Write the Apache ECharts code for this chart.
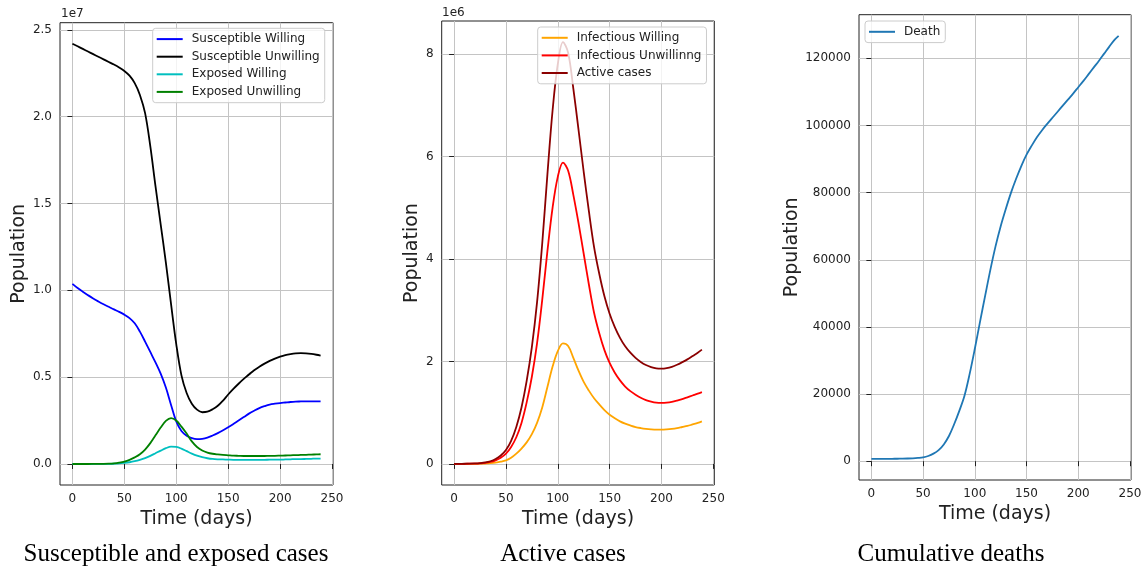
<!DOCTYPE html>
<html><head><meta charset="utf-8">
<script src="https://cdn.jsdelivr.net/npm/echarts@6/dist/echarts.min.js"></script>
<style>html,body{margin:0;padding:0;background:#fff}#c{width:1146px;height:569px}</style>
</head><body><div id="c"></div>
<script>
const days = [0,5,10,15,20,25,30,35,40,45,50,55,60,65,70,75,80,85,90,95,100,105,110,115,120,125,130,135,140,145,150,155,160,165,170,175,180,185,190,195,200,205,210,215,220,225,230,235,239];

// Panel 1 (units of 1e7)
const susceptibleWilling = [1.037,1.013,0.992,0.972,0.953,0.936,0.92,0.905,0.89,0.876,0.86,0.84,0.81,0.762,0.705,0.645,0.585,0.52,0.44,0.34,0.245,0.19,0.163,0.149,0.143,0.145,0.152,0.164,0.178,0.194,0.211,0.23,0.25,0.27,0.29,0.307,0.322,0.333,0.342,0.347,0.351,0.354,0.357,0.359,0.36,0.361,0.361,0.361,0.361];
const susceptibleUnwilling = [2.42,2.405,2.39,2.375,2.36,2.345,2.33,2.315,2.30,2.283,2.263,2.236,2.193,2.125,2.02,1.83,1.60,1.38,1.16,0.92,0.69,0.51,0.409,0.347,0.313,0.298,0.301,0.315,0.335,0.365,0.40,0.432,0.462,0.49,0.515,0.54,0.56,0.578,0.594,0.607,0.618,0.627,0.633,0.637,0.638,0.637,0.634,0.629,0.624];
const exposedWilling = [0,0,0,0,0.0001,0.0002,0.0004,0.0008,0.0015,0.003,0.006,0.01,0.016,0.024,0.034,0.047,0.062,0.077,0.091,0.1,0.098,0.088,0.074,0.06,0.048,0.039,0.033,0.029,0.027,0.026,0.025,0.024,0.024,0.024,0.024,0.024,0.024,0.024,0.025,0.025,0.025,0.026,0.027,0.028,0.028,0.029,0.03,0.031,0.031];
const exposedUnwilling = [0,0,0,0,0.0003,0.0006,0.001,0.002,0.004,0.008,0.014,0.024,0.038,0.056,0.083,0.12,0.165,0.21,0.248,0.264,0.25,0.215,0.175,0.13,0.098,0.078,0.066,0.059,0.055,0.052,0.05,0.048,0.047,0.046,0.046,0.046,0.046,0.046,0.047,0.047,0.048,0.049,0.05,0.051,0.052,0.053,0.054,0.055,0.056];

// Panel 2 (units of 1e6)
const infectiousWilling = [0,0,0.001,0.001,0.002,0.004,0.008,0.014,0.025,0.043,0.07,0.12,0.2,0.3,0.42,0.58,0.8,1.1,1.5,1.9,2.2,2.35,2.3,2.07,1.82,1.6,1.43,1.28,1.16,1.05,0.96,0.89,0.83,0.785,0.75,0.72,0.7,0.685,0.675,0.67,0.67,0.675,0.685,0.7,0.72,0.74,0.77,0.8,0.83];
const infectiousUnwilling = [0,0.001,0.002,0.004,0.007,0.012,0.02,0.038,0.07,0.12,0.2,0.33,0.52,0.8,1.2,1.7,2.35,3.2,4.15,5.0,5.6,5.88,5.72,5.25,4.7,4.1,3.5,2.95,2.55,2.22,1.97,1.78,1.63,1.51,1.42,1.35,1.29,1.245,1.215,1.195,1.19,1.195,1.21,1.235,1.265,1.3,1.335,1.37,1.40];
const activeCases = [0,0.001,0.003,0.005,0.009,0.016,0.028,0.052,0.095,0.163,0.27,0.45,0.72,1.1,1.62,2.28,3.15,4.3,5.65,6.9,7.8,8.23,8.02,7.32,6.52,5.7,4.93,4.23,3.71,3.27,2.93,2.67,2.46,2.295,2.17,2.07,1.99,1.93,1.89,1.865,1.86,1.87,1.895,1.935,1.985,2.04,2.105,2.17,2.23];

// Panel 3
const deaths = [700,700,705,710,720,735,760,800,870,980,1150,1550,2250,3300,5000,7500,11000,15000,19500,26000,33500,41500,49300,57000,64000,70000,75200,80000,84200,88000,91300,94000,96500,98600,100500,102300,104100,105900,107700,109500,111400,113300,115300,117300,119300,121400,123500,125500,126700];

const xTicks = [0,50,100,150,200,250];
const yTicks1 = [0,0.5,1.0,1.5,2.0,2.5];
const yTicks2 = [0,2,4,6,8];
const yTicks3 = [0,20000,40000,60000,80000,100000,120000];
const titles = ['Susceptible and exposed cases','Active cases','Cumulative deaths'];

const F = 'DejaVu Sans';
const TXT = '#222';
const GRIDC = '#c4c4c4';
const pts = arr => days.map((d,i)=>[d,arr[i]]);

const grids = [
  {left:60, top:22.7, width:273, height:462.3},
  {left:441.7, top:21, width:272.6, height:464},
  {left:859, top:14.7, width:272, height:465.3}
];
function xAxis(i){
  return {type:'value', gridIndex:i, min:-11.95, max:250.95,
    name:'Time (days)', nameLocation:'middle', nameGap:25,
    nameTextStyle:{fontFamily:F, fontSize:19, color:TXT, verticalAlign:'top'},
    axisLine:{show:false},
    axisTick:{show:true, inside:false, length:5, lineStyle:{color:'#222', width:1}, customValues:xTicks},
    axisLabel:{fontFamily:F, fontSize:12, color:TXT, margin:8, customValues:xTicks, formatter:v=>String(v)},
    splitLine:{show:true, lineStyle:{color:GRIDC, width:1}}};
}
function yAxis(i, min, max, ticks, fmt, gap){
  return {type:'value', gridIndex:i, min:min, max:max,
    name:'Population', nameLocation:'middle', nameGap:gap, nameRotate:90,
    nameTextStyle:{fontFamily:F, fontSize:19, color:TXT},
    axisLine:{show:false},
    axisTick:{show:true, inside:false, length:5, lineStyle:{color:'#222', width:1}, customValues:ticks},
    axisLabel:{fontFamily:F, fontSize:12, color:TXT, margin:8, customValues:ticks, formatter:fmt},
    splitLine:{show:true, lineStyle:{color:GRIDC, width:1}}};
}
function line(name, data, color, gi){
  return {type:'line', name:name, xAxisIndex:gi, yAxisIndex:gi, data:pts(data),
    showSymbol:false, symbol:'none', smooth:0.35,
    lineStyle:{color:color, width:1.8}, itemStyle:{color:color}, emphasis:{disabled:true}};
}
function legend(names, left, top){
  return {data:names, orient:'vertical', left:left, top:top, itemGap:0, itemWidth:26, itemHeight:2,
    icon:'rect', selectedMode:false, padding:[2,5,2,4],
    backgroundColor:'rgba(255,255,255,0.8)', borderColor:'#cccccc', borderWidth:1, borderRadius:3,
    textStyle:{fontFamily:F, fontSize:12, color:TXT, lineHeight:17.6, padding:[0,0,0,4]}};
}

const chart = echarts.init(document.getElementById('c'), null, {renderer:'canvas'});
chart.setOption({
  animation:false,
  backgroundColor:'#ffffff',
  grid: grids.map(g=>Object.assign({show:true, borderColor:'#222', borderWidth:1, backgroundColor:'transparent', containLabel:false}, g)),
  xAxis:[xAxis(0), xAxis(1), xAxis(2)],
  yAxis:[
    yAxis(0, -0.121, 2.541, yTicks1, v=>v.toFixed(1), 30),
    yAxis(1, -0.4115, 8.6415, yTicks2, v=>String(v), 20),
    yAxis(2, -5600, 133000, yTicks3, v=>String(v), 56)
  ],
  legend:[
    legend(['Susceptible Willing','Susceptible Unwilling','Exposed Willing','Exposed Unwilling'], 152.7, 28.3),
    legend(['Infectious Willing','Infectious Unwillinng','Active cases'], 537.7, 27),
    legend(['Death'], 865, 21)
  ],
  series:[
    line('Susceptible Willing', susceptibleWilling, '#0000ff', 0),
    line('Susceptible Unwilling', susceptibleUnwilling, '#000000', 0),
    line('Exposed Willing', exposedWilling, '#00bfbf', 0),
    line('Exposed Unwilling', exposedUnwilling, '#008000', 0),
    line('Infectious Willing', infectiousWilling, '#ffa500', 1),
    line('Infectious Unwillinng', infectiousUnwilling, '#ff0000', 1),
    line('Active cases', activeCases, '#8b0000', 1),
    line('Death', deaths, '#1f77b4', 2)
  ],
  graphic:[
    {type:'text', left:61, top:8, style:{text:'1e7', font:'12px "DejaVu Sans"', fill:TXT}},
    {type:'text', left:442, top:7, style:{text:'1e6', font:'12px "DejaVu Sans"', fill:TXT}},
    {type:'text', x:176, y:554, style:{text:titles[0], font:'25px "Liberation Serif"', fill:'#000', align:'center', verticalAlign:'middle'}},
    {type:'text', x:563, y:554, style:{text:titles[1], font:'25px "Liberation Serif"', fill:'#000', align:'center', verticalAlign:'middle'}},
    {type:'text', x:951, y:554, style:{text:titles[2], font:'25px "Liberation Serif"', fill:'#000', align:'center', verticalAlign:'middle'}}
  ]
});
</script></body></html>
